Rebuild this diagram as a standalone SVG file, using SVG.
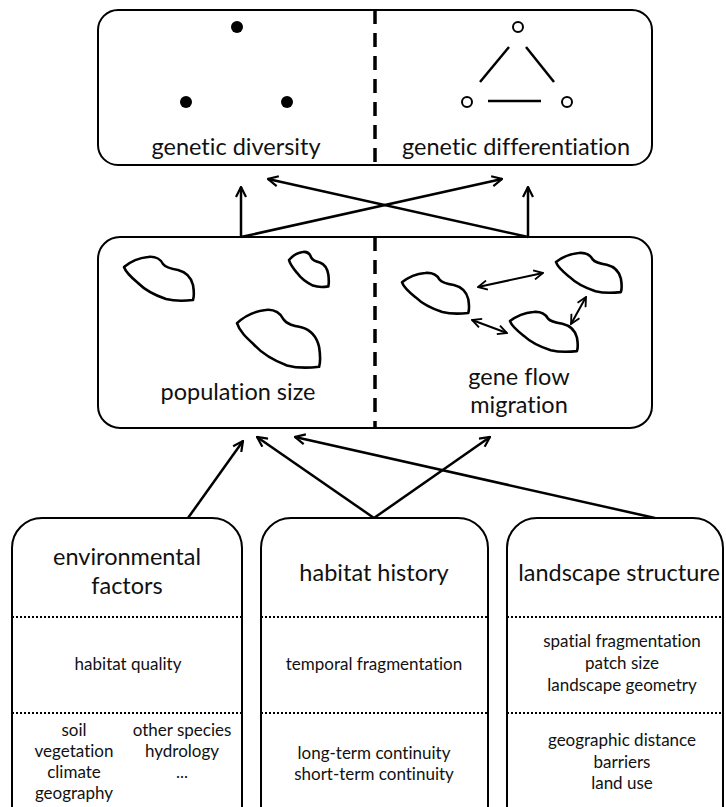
<svg xmlns="http://www.w3.org/2000/svg" width="726" height="807" viewBox="0 0 726 807">
<defs>
<style>
.box{fill:#fff;stroke:#000;stroke-width:2}
.div{stroke:#000;stroke-width:3.5;stroke-dasharray:14,9;fill:none}
.dot{stroke:#000;stroke-width:2;stroke-dasharray:2,2;fill:none}
.t{font-family:Lato,"Open Sans",sans-serif;fill:#111;text-anchor:middle;font-variant-ligatures:none;font-feature-settings:"liga" 0,"dlig" 0,"clig" 0}
.big{font-size:23.5px}
.sm{font-size:17px}
.con{stroke:#000;stroke-width:2.5;fill:none;marker-end:url(#ah)}
.dbl{stroke:#000;stroke-width:2;fill:none;marker-end:url(#ah2);marker-start:url(#ah2)}
.blob{fill:none;stroke:#000;stroke-width:2.6;stroke-linejoin:round}
</style>
<marker id="ah" viewBox="0 0 12 12" refX="11" refY="6" markerWidth="12" markerHeight="12" markerUnits="userSpaceOnUse" orient="auto-start-reverse">
<path d="M1,1 L11,6 L1,11" fill="none" stroke="#000" stroke-width="2.2"/>
</marker>
<marker id="ah2" viewBox="0 0 12 12" refX="11" refY="6" markerWidth="11" markerHeight="11" markerUnits="userSpaceOnUse" orient="auto-start-reverse">
<path d="M1,1 L11,6 L1,11" fill="none" stroke="#000" stroke-width="2"/>
</marker>
<path id="bl" vector-effect="non-scaling-stroke" d="M0,10 C6,5 14,1 24,0 C32,-1 37,3 39,7 C42,11 48,12 54,13 C62,15 67,20 69,28 C70,34 70,40 69,43 C60,44 50,44 42,42 C30,38 20,32 14,26 C8,21 2,16 0,10 Z"/>
</defs>

<g id="top">
<rect class="box" x="98" y="10" width="554" height="155" rx="20"/>
<line class="div" x1="375" y1="10" x2="375" y2="165"/>
<circle cx="237" cy="27" r="6" fill="#000"/>
<circle cx="186" cy="102" r="6" fill="#000"/>
<circle cx="287" cy="102" r="6" fill="#000"/>
<g fill="none" stroke="#000" stroke-width="2">
<circle cx="518" cy="27" r="5"/>
<circle cx="467" cy="102" r="5"/>
<circle cx="567" cy="102" r="5"/>
<line x1="509" y1="47" x2="480" y2="82" stroke-width="2.5"/>
<line x1="526" y1="47" x2="554" y2="82" stroke-width="2.5"/>
<line x1="488" y1="101" x2="541" y2="101" stroke-width="2.5"/>
</g>
<text class="t big" x="236" y="155">genetic diversity</text>
<text class="t big" x="516" y="155">genetic differentiation</text>
</g>

<g id="middle">
<rect class="box" x="98" y="237" width="554" height="191" rx="22"/>
<line class="div" x1="375" y1="237" x2="375" y2="428"/>
<use href="#bl" class="blob" transform="translate(124,257)"/>
<use href="#bl" class="blob" transform="translate(289,252) scale(0.57,0.8)"/>
<use href="#bl" class="blob" transform="translate(237,310) scale(1.19,1.32)"/>
<use href="#bl" class="blob" transform="translate(402,273) scale(0.96,0.93)"/>
<use href="#bl" class="blob" transform="translate(556,253) scale(0.94,0.91)"/>
<use href="#bl" class="blob" transform="translate(510,312) scale(0.97,0.91)"/>
<line class="dbl" x1="478" y1="287" x2="543" y2="273"/>
<line class="dbl" x1="472" y1="320" x2="507" y2="333"/>
<line class="dbl" x1="586" y1="297" x2="571" y2="324"/>
<text class="t big" x="238" y="400">population size</text>
<text class="t big" x="519" y="385">gene flow</text>
<text class="t big" x="519" y="413">migration</text>
</g>

<g id="env">
<rect class="box" x="12" y="518" width="230" height="320" rx="30"/>
<line class="dot" x1="12" y1="617" x2="242" y2="617"/>
<line class="dot" x1="12" y1="713" x2="242" y2="713"/>
<text class="t big" x="127" y="565">environmental</text>
<text class="t big" x="127" y="594">factors</text>
<text class="t sm" x="128" y="670">habitat quality</text>
<text class="t sm" x="74" y="736">soil</text>
<text class="t sm" x="74" y="757">vegetation</text>
<text class="t sm" x="74" y="778">climate</text>
<text class="t sm" x="74" y="799">geography</text>
<text class="t sm" x="182" y="736">other species</text>
<text class="t sm" x="182" y="757">hydrology</text>
<text class="t sm" x="182" y="778">...</text>
</g>

<g id="history">
<rect class="box" x="261" y="518" width="227" height="320" rx="30"/>
<line class="dot" x1="261" y1="617" x2="488" y2="617"/>
<line class="dot" x1="261" y1="713" x2="488" y2="713"/>
<text class="t big" x="374" y="581">habitat history</text>
<text class="t sm" x="374" y="670">temporal fragmentation</text>
<text class="t sm" x="374" y="759">long-term continuity</text>
<text class="t sm" x="374" y="780">short-term continuity</text>
</g>

<g id="landscape">
<rect class="box" x="507" y="518" width="216" height="320" rx="30"/>
<line class="dot" x1="507" y1="617" x2="723" y2="617"/>
<line class="dot" x1="507" y1="713" x2="723" y2="713"/>
<text class="t big" x="619" y="581">landscape structure</text>
<text class="t sm" x="622" y="647">spatial fragmentation</text>
<text class="t sm" x="622" y="669">patch size</text>
<text class="t sm" x="622" y="691">landscape geometry</text>
<text class="t sm" x="622" y="746">geographic distance</text>
<text class="t sm" x="622" y="768">barriers</text>
<text class="t sm" x="622" y="789">land use</text>
</g>

<g id="connectors">
<line class="con" x1="241" y1="237" x2="241" y2="187"/>
<line class="con" x1="528" y1="237" x2="528" y2="187"/>
<line class="con" x1="241" y1="237" x2="502" y2="179"/>
<line class="con" x1="528" y1="237" x2="268" y2="179"/>
<line class="con" x1="188" y1="518" x2="243" y2="441"/>
<line class="con" x1="374" y1="518" x2="257" y2="437"/>
<line class="con" x1="374" y1="518" x2="490" y2="437"/>
<line class="con" x1="655" y1="518" x2="295" y2="437"/>
</g>
</svg>
